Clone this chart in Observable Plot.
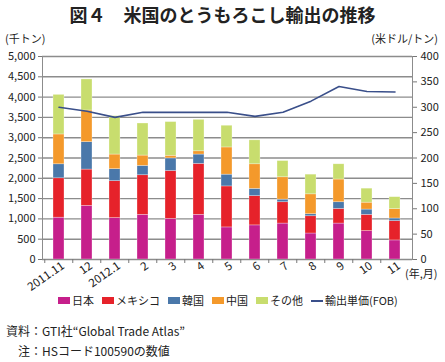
<!DOCTYPE html>
<html><head><meta charset="utf-8">
<script src="https://cdn.jsdelivr.net/npm/d3@7"></script>
<script src="https://cdn.jsdelivr.net/npm/@observablehq/plot@0.6"></script>
<style>
body{margin:0;background:#fff;font-family:"Noto Sans CJK JP",sans-serif;color:#222}
#wrap{position:relative;width:445px;height:362px;overflow:hidden}
.abs{position:absolute;white-space:nowrap;line-height:1}
#chart{position:absolute;left:0;top:30px}
.leg{display:flex;align-items:center;font-size:11px}
.sw{display:inline-block;width:12px;height:7px;margin-right:2px}
.item{display:flex;align-items:center;margin-right:8px}
</style></head><body><div id="wrap">
<div class="abs" style="left:0;width:445px;top:5px;text-align:center;font-size:18px;font-weight:bold">図４　米国のとうもろこし輸出の推移</div>
<div class="abs" style="left:5px;top:33px;font-size:11px">(千トン)</div>
<div class="abs" style="right:7px;top:33px;font-size:11px">(米ドル/トン)</div>
<div id="chart"></div>
<div class="abs" style="left:405px;top:268px;font-size:11px">(年,月)</div>
<div class="abs leg" id="legend" style="left:58px;top:295px"></div>
<div class="abs" style="left:6px;top:325px;font-size:12px">資料：GTI社“Global Trade Atlas”</div>
<div class="abs" style="left:18px;top:345px;font-size:12px">注：HSコード100590の数値</div>
</div>
<script>
const months = ["2011.11","12","2012.1","2","3","4","5","6","7","8","9","10","11"];
const japan  = [1030,1320,1020,1100,1000,1100,790,840,885,640,885,700,470];
const mexico = [970,895,910,975,1180,1255,1010,720,525,425,360,400,475];
const korea  = [345,675,295,230,310,230,290,180,65,50,165,130,65];
const china  = [735,780,360,255,65,80,670,605,550,490,560,170,230];
const other  = [975,765,945,790,830,775,535,590,400,485,375,345,295];
const price  = [300,292,280,290,290,290,290,282,290,312,341,331,330];
const seriesNames = ["日本","メキシコ","韓国","中国","その他"];
const lineName = "輸出単価(FOB)";
const seriesColors = ["#c61f8b","#e6222a","#4a78aa","#f4992b","#c8dd6e"];
const lineColor = "#3a4f8a";
const leftTicks = d3.range(0, 5001, 500);
const rightTicks = d3.range(0, 401, 50);

const seriesValues = [japan, mexico, korea, china, other];
const rows = seriesNames.flatMap((s, k) => months.map((m, i) => ({month: m, series: s, value: seriesValues[k][i]})));
const lineRows = months.map((m, i) => ({month: m, price: price[i]}));
const ratio = 5000 / 400;
const plotW = 445 - 42 - 33;
const step = plotW / months.length;

const chart = Plot.plot({
  width: 445, height: 272,
  marginTop: 26, marginBottom: 43, marginLeft: 42, marginRight: 33,
  style: {fontFamily: "Noto Sans CJK JP, sans-serif", fontSize: "11px", color: "#222", background: "transparent", overflow: "visible"},
  x: {domain: months, paddingInner: 0.6, paddingOuter: 0.3, label: null},
  y: {domain: [0, 5000], label: null},
  color: {domain: seriesNames, range: seriesColors},
  marks: [
    Plot.gridY(leftTicks, {stroke: "#8c8c8c", strokeOpacity: 1, strokeWidth: 1.4}),
    Plot.barY(rows, {x: "month", y: "value", fill: "series", stroke: "#fff", strokeWidth: 0.6, strokeOpacity: 0.5}),
    Plot.line(lineRows, {x: "month", y: d => d.price * ratio, stroke: lineColor, strokeWidth: 1.6}),
    Plot.frame({stroke: "#8c8c8c"}),
    Plot.axisY(leftTicks, {anchor: "left", tickFormat: d3.format(","), tickSize: 4, tickPadding: 3, stroke: "#777", label: null}),
    Plot.axisY(rightTicks.map(v => v * ratio), {anchor: "right", tickFormat: d => d / ratio, tickSize: 4, tickPadding: 4, stroke: "#777", label: null}),
    Plot.axisX({tickSize: 4, tickFormat: () => "", dx: -step / 2, stroke: "#777", label: null}),
    Plot.axisX({tickSize: 0, tickRotate: -35, tickPadding: 5, fontSize: 11.5, dx: 4, label: null})
  ]
});
document.getElementById("chart").appendChild(chart);

const leg = document.getElementById("legend");
seriesNames.forEach((s, k) => {
  const it = document.createElement("span");
  it.className = "item";
  it.innerHTML = `<span class="sw" style="background:${seriesColors[k]}"></span>${s}`;
  leg.appendChild(it);
});
const li = document.createElement("span");
li.className = "item";
li.innerHTML = `<span style="display:inline-block;width:12px;height:2px;background:${lineColor};margin-right:2px"></span>${lineName}`;
leg.appendChild(li);
</script>
</body></html>
